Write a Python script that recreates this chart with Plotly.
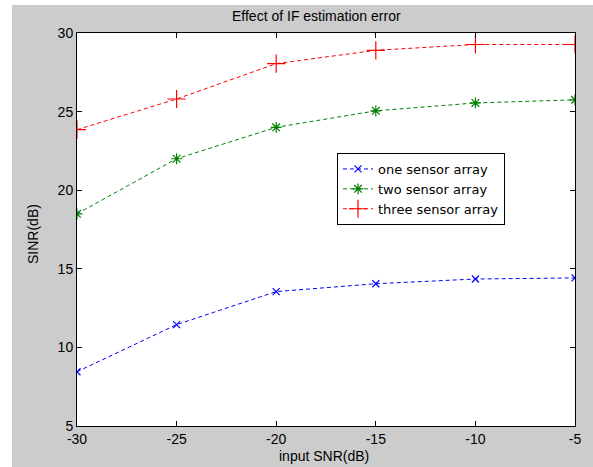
import plotly.graph_objects as go

snr = [-30, -25, -20, -15, -10, -5]
one_sensor = [8.45, 11.45, 13.55, 14.05, 14.35, 14.42]
two_sensor = [18.5, 22.0, 24.0, 25.05, 25.55, 25.75]
three_sensor = [23.85, 25.8, 28.05, 28.9, 29.27, 29.27]

x_ticks = [-30, -25, -20, -15, -10, -5]
x_ticktext = ["-30", "-25", "-20", "-15", "-10", "-5"]
y_ticks = [5, 10, 15, 20, 25, 30]

FONT = "Liberation Sans, Arial, sans-serif"
LEGEND_FONT = "DejaVu Sans, sans-serif"
W, H = 593, 467
L, R, T, B = 77, 575, 33, 426
pw, ph = R - L, B - T

def px(xp):
    return (xp - L) / pw

def py(yp):
    return (B - yp) / ph

fig = go.Figure()
fig.add_trace(go.Scatter(x=snr, y=one_sensor, name="one sensor array", mode="lines+markers",
                         line=dict(color="#0000ff", width=1, dash="4px,3px"),
                         marker=dict(symbol="x-thin-open", size=7, color="#0000ff",
                                     line=dict(color="#0000ff", width=1.2))))
fig.add_trace(go.Scatter(x=snr, y=two_sensor, name="two sensor array", mode="lines+markers",
                         line=dict(color="#008000", width=1, dash="4px,3px"),
                         marker=dict(symbol="asterisk-open", size=9, color="#008000",
                                     line=dict(color="#008000", width=1.2))))
fig.add_trace(go.Scatter(x=snr, y=three_sensor, name="three sensor array", mode="lines+markers",
                         line=dict(color="#ff0000", width=1, dash="4px,3px"),
                         marker=dict(symbol="cross-thin-open", size=13, color="#ff0000",
                                     line=dict(color="#ff0000", width=1.2))))

axis_common = dict(showgrid=False, zeroline=False, showline=True, linecolor="black", linewidth=1,
                   mirror="ticks", ticks="inside", ticklen=5, tickcolor="black", tickwidth=1,
                   tickfont=dict(family=FONT, size=14, color="black"))

fig.update_layout(
    width=W, height=H,
    margin=dict(l=L, r=W - R, t=T, b=H - B, pad=0),
    paper_bgcolor="#cccccc",
    plot_bgcolor="white",
    showlegend=True,
    legend=dict(x=px(337), y=py(153), xanchor="left", yanchor="top",
                bgcolor="white", bordercolor="black", borderwidth=1,
                font=dict(family=LEGEND_FONT, size=13, color="black"),
                tracegroupgap=0),
    xaxis=dict(range=[-30, -5], tickvals=x_ticks, ticktext=x_ticktext, **axis_common),
    yaxis=dict(range=[5, 30], tickvals=y_ticks, **axis_common),
    annotations=[
        dict(text="Effect of IF estimation error", xref="paper", yref="paper",
             x=px(316), y=py(16), xanchor="center", yanchor="middle", showarrow=False,
             font=dict(family=FONT, size=14, color="black")),
        dict(text="input SNR(dB)", xref="paper", yref="paper",
             x=px(323.5), y=py(456), xanchor="center", yanchor="middle", showarrow=False,
             font=dict(family=FONT, size=14, color="black")),
        dict(text="SINR(dB)", xref="paper", yref="paper", textangle=-90,
             x=px(33), y=py(234), xanchor="center", yanchor="middle", showarrow=False,
             font=dict(family=FONT, size=14, color="black")),
    ],
    shapes=[
        dict(type="rect", xref="paper", yref="paper", x0=px(0), x1=px(12), y0=py(H), y1=py(0),
             fillcolor="white", line=dict(width=0), layer="above"),
        dict(type="rect", xref="paper", yref="paper", x0=px(0), x1=px(W), y0=py(5), y1=py(0),
             fillcolor="white", line=dict(width=0), layer="above"),
    ],
)

fig.write_html("out.html", config={"displayModeBar": False},
               post_script="document.body.style.margin='0';document.body.style.overflow='hidden';")
